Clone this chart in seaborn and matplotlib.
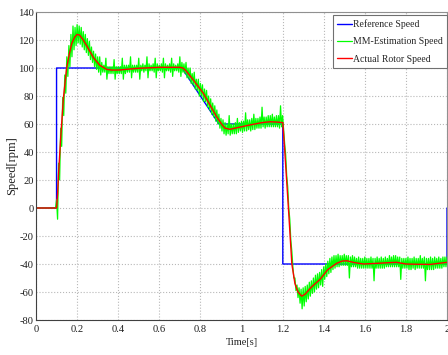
import numpy as np
import pandas as pd
import matplotlib
matplotlib.use("Agg")
import matplotlib.pyplot as plt
import seaborn as sns

# ---------------- data ----------------
ref_t = [0, 0.1, 0.1, 0.71, 0.89, 1.201, 1.201, 2.0, 2.0]
ref_v = [0, 0, 100, 100, 60, 60, -40, -40, 0]

red_t = [0, 0.1, 0.105, 0.11, 0.12, 0.133, 0.149, 0.162, 0.174, 0.188, 0.2, 0.212,
         0.23, 0.25, 0.279, 0.31, 0.344, 0.37, 0.41, 0.45, 0.5, 0.6, 0.7, 0.715,
         0.73, 0.76, 0.814, 0.879, 0.905, 0.92, 0.944, 0.98, 1.04, 1.1, 1.14, 1.18,
         1.201, 1.21, 1.23, 1.245, 1.26, 1.275, 1.293, 1.31, 1.34, 1.382, 1.42,
         1.463, 1.49, 1.512, 1.55, 1.593, 1.65, 1.723, 1.755, 1.8, 1.86, 1.918,
         1.96, 2.0]
red_v = [0, 0, 10, 25, 50, 78, 100, 110, 117.5, 122, 124, 123.5,
         120, 115, 107.5, 102, 99, 98.5, 98.6, 99.2, 99.8, 100.5, 100.5, 100,
         98, 92.5, 82, 65.2, 59.5, 57, 56.2, 57.4, 59.3, 61, 61.6, 61.3,
         61, 42, -4, -40, -54, -60, -63, -61.5, -56.5, -51, -44,
         -39.5, -37.9, -37.7, -39, -40, -39.6, -39, -38.8, -40, -40.2, -40.3,
         -39.5, -38.8]

# estimated speed: sampled every 0.01 s from 0.10 s to 2.00 s (upper / lower swing)
est_t = np.round(np.arange(0.10, 2.0001, 0.01), 2)
est_hi = [6, 32, 57, 79, 95, 108, 116, 124, 130, 129,
          131, 130, 129, 126, 124, 121, 119, 115, 112, 110,
          108, 108, 104, 102, 107, 101, 101, 101, 106, 101,
          101, 101, 107, 102, 102, 102, 108, 102, 102, 102,
          107, 102, 103, 102, 108, 103, 102, 103, 107, 103,
          102, 103, 107, 103, 102, 103, 107, 103, 102, 103,
          108, 104, 103, 104, 100, 100, 96, 97, 92, 92,
          89, 88, 85, 84, 80, 78, 75, 73, 70, 67,
          64, 63, 61, 60, 66, 60, 60, 61, 64, 61,
          62, 62, 68, 63, 63, 64, 67, 64, 64, 65,
          72, 65, 65, 66, 66, 67, 65, 66, 66, 73,
          66, 46, 23, 0, -23, -42, -50, -55, -57, -58,
          -57, -56, -55, -53, -52, -50, -48, -47, -46, -44,
          -42, -40, -38, -36, -35, -34, -34, -33, -34, -34,
          -33, -34, -34, -35, -34, -35, -36, -35, -36, -36,
          -35, -36, -36, -35, -36, -36, -35, -36, -35, -36,
          -35, -36, -34, -35, -34, -34, -35, -35, -36, -36,
          -36, -35, -36, -36, -35, -36, -36, -34, -36, -35,
          -36, -36, -35, -36, -35, -36, -35, -36, -35, -35,
          -35]
est_lo = [-8, 20, 44, 66, 82, 94, 101, 108, 113, 116,
          118, 117, 115, 113, 111, 109, 106, 104, 101, 99,
          97, 95, 97, 97, 92, 96, 96, 96, 92, 96,
          96, 96, 92, 96, 97, 97, 93, 97, 97, 97,
          92, 98, 97, 98, 93, 98, 98, 97, 93, 98,
          98, 97, 93, 98, 98, 97, 94, 98, 98, 97,
          94, 97, 96, 93, 92, 89, 88, 85, 84, 80,
          80, 76, 76, 72, 70, 67, 65, 62, 60, 57,
          55, 53, 52, 53, 52, 53, 53, 53, 54, 55,
          54, 55, 55, 56, 55, 56, 56, 57, 57, 57,
          58, 57, 58, 58, 58, 58, 58, 58, 57, 58,
          56, 38, 15, -8, -31, -50, -59, -64, -68, -72,
          -70, -67, -65, -63, -61, -60, -58, -57, -55, -56,
          -51, -49, -47, -46, -44, -43, -42, -42, -41, -41,
          -41, -41, -50, -42, -42, -42, -43, -43, -43, -43,
          -43, -43, -43, -43, -52, -43, -43, -43, -43, -43,
          -42, -42, -42, -42, -42, -42, -42, -51, -43, -43,
          -43, -44, -44, -43, -44, -43, -43, -43, -43, -52,
          -44, -44, -44, -44, -43, -43, -43, -43, -42, -42,
          -42]

xtick_vals = [0, 0.2, 0.4, 0.6, 0.8, 1.0, 1.2, 1.4, 1.6, 1.8, 2.0]
xtick_labels = ["0", "0.2", "0.4", "0.6", "0.8", "1", "1.2", "1.4", "1.6", "1.8", "2"]
ytick_vals = [-80, -60, -40, -20, 0, 20, 40, 60, 80, 100, 120, 140]
ytick_labels = ["-80", "-60", "-40", "-20", "0", "20", "40", "60", "80", "100", "120", "140"]

# ---------------- tables ----------------
ref_df = pd.DataFrame({"t": ref_t, "v": ref_v})
red_df = pd.DataFrame({"t": red_t, "v": red_v})
g_t, g_v = [0.0, 0.095], [0.0, 0.0]
for t, hi, lo in zip(est_t, est_hi, est_lo):
    g_t += [float(t), float(t) + 0.005]
    g_v += [hi, lo]
est_df = pd.DataFrame({"t": g_t, "v": g_v})

# ---------------- figure ----------------
sns.set_theme(style="white")
plt.rcParams["font.family"] = ["Liberation Serif", "DejaVu Serif"]

fig = plt.figure(figsize=(4.48, 3.55), dpi=100)
ax = fig.add_axes([36 / 448, 1 - 320 / 355, 411 / 448, 308 / 355])

sns.lineplot(data=ref_df, x="t", y="v", ax=ax, color="#0000ff", linewidth=1.0,
             estimator=None, sort=False, label="Reference Speed")
sns.lineplot(data=est_df, x="t", y="v", ax=ax, color="#00ff00", linewidth=0.9,
             estimator=None, sort=False, label="MM-Estimation Speed")
sns.lineplot(data=red_df, x="t", y="v", ax=ax, color="#ff0000", linewidth=1.0,
             estimator=None, sort=False, label="Actual Rotor Speed")

ax.set_xlim(0, 2)
ax.set_ylim(-80, 140)
ax.set_xticks(xtick_vals)
ax.set_xticklabels(xtick_labels)
ax.set_yticks(ytick_vals)
ax.set_yticklabels(ytick_labels)
ax.tick_params(direction="in", length=3, width=0.6, labelsize=7.6,
               colors="#303030", labelcolor="#202020")
ax.tick_params(axis="x", pad=3.5)
ax.tick_params(axis="y", pad=1.5)
ax.grid(True, linestyle=":", color="#b8b8b8", linewidth=0.8)
ax.set_axisbelow(True)

for side in ["left", "bottom"]:
    ax.spines[side].set_color("#404040")
    ax.spines[side].set_linewidth(0.8)
for side in ["top", "right"]:
    ax.spines[side].set_color("#909090")
    ax.spines[side].set_linewidth(0.8)

ax.set_xlabel("Time[s]", fontsize=7.5, color="#202020")
ax.set_ylabel("Speed[rpm]", fontsize=9, color="#202020")
ax.xaxis.set_label_coords(0.5, -0.06)
ax.yaxis.set_label_coords(-0.044, 0.5)

leg = ax.legend(loc="upper right", bbox_to_anchor=(1.0, 0.99), borderaxespad=0,
                fontsize=7.0, frameon=True, fancybox=False, framealpha=1,
                edgecolor="#707070", handlelength=1.5, handletextpad=0.1,
                labelspacing=0.85, borderpad=0.45)
leg.get_frame().set_linewidth(0.8)

fig.savefig("out.png", dpi=100)
